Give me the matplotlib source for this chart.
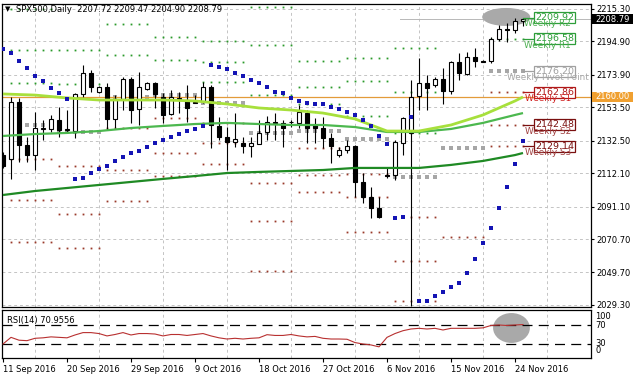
import numpy as np
import matplotlib
matplotlib.use('Agg')
import matplotlib.pyplot as plt
import matplotlib.transforms as mtrans
from matplotlib.patches import Ellipse, Rectangle

plt.rcParams['font.family'] = ['DejaVu Sans']
plt.rcParams['font.size'] = 6

# daily bars, 11 Sep 2016 .. 25 Nov 2016 (Sun-Fri sessions)
opens = [2123.5, 2121.0, 2156.8, 2129.8, 2123.5, 2139.9, 2139.9, 2145.5, 2139.3, 2138.6,
         2161.9, 2175.1, 2163.1, 2166.3, 2146.2, 2158.7, 2171.3, 2152.4, 2165.0, 2168.8,
         2160.0, 2149.3, 2158.7, 2158.1, 2156.8, 2156.8, 2166.3, 2141.8, 2134.9, 2131.7,
         2131.1, 2129.2, 2130.4, 2138.0, 2144.3, 2143.7, 2144.0, 2143.7, 2149.9, 2142.4,
         2140.5, 2134.2, 2123.5, 2126.7, 2129.2, 2106.6, 2097.1, 2090.2, 2110.9, 2110.9,
         2131.1, 2137.4, 2160.6, 2168.8, 2167.5, 2171.3, 2163.8, 2182.0, 2174.4, 2185.1,
         2182.6, 2182.6, 2196.4, 2202.7, 2202.1, 2207.72]
highs = [2125.5, 2160.0, 2159.4, 2134.9, 2150.6, 2145.5, 2148.7, 2153.7, 2151.8, 2162.5,
         2180.1, 2177.0, 2166.8, 2168.8, 2161.2, 2172.6, 2172.6, 2175.7, 2169.4, 2169.4,
         2162.5, 2164.4, 2163.1, 2167.5, 2161.2, 2169.4, 2167.5, 2147.4, 2141.1, 2149.9,
         2134.9, 2134.9, 2145.5, 2148.0, 2149.9, 2145.5, 2145.5, 2155.0, 2151.8, 2146.8,
         2147.4, 2137.4, 2128.6, 2133.0, 2129.8, 2112.2, 2103.4, 2097.1, 2115.9, 2133.0,
         2147.4, 2170.7, 2184.5, 2173.8, 2172.6, 2178.2, 2182.6, 2187.6, 2188.3, 2190.8,
         2183.2, 2197.7, 2205.2, 2206.5, 2209.6, 2209.47]
lows = [2115.5, 2108.5, 2119.1, 2119.1, 2114.1, 2133.0, 2138.0, 2134.9, 2138.0, 2134.2,
        2160.0, 2163.1, 2162.8, 2139.3, 2140.5, 2151.8, 2143.7, 2142.4, 2164.4, 2153.1,
        2143.7, 2148.7, 2149.9, 2144.3, 2156.2, 2156.2, 2127.9, 2133.0, 2114.1, 2128.6,
        2124.8, 2122.3, 2130.4, 2133.0, 2133.0, 2128.6, 2141.1, 2140.5, 2131.1, 2131.1,
        2127.9, 2118.5, 2122.3, 2124.8, 2097.1, 2093.4, 2083.9, 2083.9, 2109.1, 2107.8,
        2123.5, 2028.5, 2151.8, 2151.8, 2166.3, 2155.6, 2161.9, 2170.7, 2173.8, 2178.8,
        2181.8, 2181.4, 2195.2, 2194.6, 2200.2, 2204.90]
closes = [2116.6, 2156.8, 2129.8, 2123.5, 2140.5, 2140.5, 2146.2, 2139.3, 2139.9, 2161.9,
          2175.1, 2166.3, 2166.3, 2146.2, 2158.7, 2171.3, 2151.8, 2166.3, 2168.8, 2161.9,
          2148.7, 2160.0, 2159.4, 2153.1, 2156.5, 2166.3, 2142.4, 2134.9, 2131.7, 2133.6,
          2129.2, 2131.1, 2137.4, 2144.3, 2143.7, 2140.5, 2144.3, 2150.6, 2140.5, 2140.5,
          2134.2, 2129.2, 2126.7, 2129.2, 2106.6, 2097.1, 2090.2, 2084.6, 2110.6, 2131.7,
          2146.8, 2160.0, 2168.8, 2165.6, 2171.3, 2163.8, 2182.0, 2175.1, 2185.1, 2182.6,
          2182.3, 2196.4, 2202.7, 2201.8, 2207.8, 2208.79]

# moving averages read at every 4th bar
ma_idx = [0, 4, 8, 12, 16, 20, 24, 28, 32, 36, 40, 44, 48, 52, 56, 60, 64, 65]
ma_fast = [2161.9, 2161.2, 2159.4, 2158.1, 2158.1, 2158.1, 2157.5, 2155.6, 2153.1, 2151.8,
           2149.9, 2146.2, 2138.6, 2138.6, 2142.4, 2148.7, 2157.5, 2160.0]
ma_mid = [2135.5, 2136.7, 2137.4, 2138.6, 2140.5, 2141.8, 2143.0, 2143.7, 2143.0, 2142.4,
          2142.4, 2141.1, 2138.0, 2138.0, 2139.9, 2143.7, 2148.7, 2149.9]
ma_slow = [2098.4, 2100.9, 2102.8, 2104.7, 2106.6, 2108.5, 2110.3, 2112.2, 2112.9, 2113.5,
           2114.1, 2115.4, 2115.4, 2115.4, 2117.3, 2119.8, 2123.5, 2124.8]

sar = [2190.2, 2187.6, 2182.6, 2178.2, 2173.2, 2170.0, 2165.6, 2162.5, 2158.7,
       2108.5, 2109.1, 2112.2, 2114.7, 2116.6, 2119.8, 2122.3, 2124.8, 2126.1, 2128.6,
       2131.1, 2133.0, 2134.9, 2136.7, 2138.6, 2139.9, 2141.8,
       2180.1, 2178.8, 2177.6, 2175.1, 2173.2, 2170.7, 2168.5, 2166.3, 2163.1, 2162.5,
       2159.4, 2157.5, 2156.2, 2155.6, 2155.6, 2153.7, 2152.4, 2150.6, 2148.7, 2145.5,
       2141.8, 2135.5, 2130.4,
       2083.9, 2084.6, 2147.4, 2031.8, 2031.8, 2034.9, 2037.5, 2040.6, 2043.1, 2049.4,
       2058.2, 2068.2, 2077.7, 2090.2, 2103.4, 2117.9, 2132.3]

rsi = [30, 44, 38, 37, 42, 43, 45, 44, 43, 49, 54, 54, 52, 47, 50, 54, 49, 52, 52, 51,
       47, 50, 50, 48, 50, 52, 47, 43, 40.5, 42, 40.5, 42, 43, 49.6, 48, 48, 50, 47, 45, 46,
       42, 40.5, 40.5, 40, 33, 30, 28, 24, 44, 52, 58, 61.6, 63, 61.6, 63, 59.5, 63, 63, 63,
       63, 64, 69, 70, 69, 70, 70.96]

# weekly pivots, one row per week: R3 R2 R1 P S1 S2 S3 (week k spans bars 6k-5..6k)
piv_week = [1, 2, 3, 4, 5, 6, 7, 8, 9, 10, 11]
piv_r3 = [2215.0, 2219.4, 2232.1, 2219.7, 2195.0, 2216.4, 2182.9, 2184.8, 2190.6, 2383.7, 2230.3]
piv_r2 = [2189.4, 2189.7, 2206.1, 2197.7, 2182.2, 2192.9, 2166.4, 2169.9, 2163.1, 2284.1, 2209.92]
piv_r1 = [2168.5, 2167.9, 2186.2, 2183.3, 2169.3, 2161.1, 2155.3, 2148.3, 2137.6, 2227.7, 2196.58]
piv_p = [2142.4, 2138.2, 2160.2, 2161.3, 2156.5, 2137.6, 2138.8, 2133.4, 2110.0, 2128.1, 2176.20]
piv_s1 = [2121.2, 2116.4, 2140.3, 2146.9, 2143.6, 2105.8, 2127.7, 2111.8, 2084.6, 2071.7, 2162.86]
piv_s2 = [2095.3, 2086.7, 2114.3, 2124.9, 2130.8, 2082.3, 2111.2, 2096.9, 2057.0, 1972.1, 2142.48]
piv_s3 = [2069.0, 2064.9, 2094.4, 2110.5, 2117.9, 2050.5, 2100.1, 2075.3, 2031.6, 1900.0, 2129.14]

price_ticks = [2215.30, 2194.90, 2173.90, 2153.50, 2132.50, 2112.10, 2091.10, 2070.70, 2049.70, 2029.30]
date_idx = [0, 8, 16, 24, 32, 40, 48, 56, 64]
date_lbl = ['11 Sep 2016', '20 Sep 2016', '29 Sep 2016', '9 Oct 2016', '18 Oct 2016',
            '27 Oct 2016', '6 Nov 2016', '15 Nov 2016', '24 Nov 2016']
hline_price = 2160.00

W, H = 633, 379
PPU = 1.591  # pixels per price unit
fig = plt.figure(figsize=(W / 100, H / 100), dpi=100)


def px_axes(x0, y0, x1, y1):
    return fig.add_axes([x0 / W, 1 - y1 / H, (x1 - x0) / W, (y1 - y0) / H])


def ypx(p):
    return 9 + (2215.3 - p) * PPU


ax = px_axes(2, 4, 591, 307)
ar = px_axes(2, 310, 591, 358)
for a in (ax, ar):
    a.set_xlim(-0.125, 73.5)
    for s in a.spines.values():
        s.set_linewidth(0.9)
ax.set_ylim(2215.3 - 298 / PPU, 2215.3 + 5 / PPU)
ar.set_ylim(0.5, 101.6)

grid = dict(color='#c4c4c4', lw=0.7, ls=(0, (3, 3)), zorder=0)
for v in price_ticks:
    ax.axhline(v, **grid)
for b in range(4, 74, 8):
    ax.axvline(b, **grid)
    ar.axvline(b, **grid)

x = np.arange(len(opens))
o = np.array(opens); c = np.array(closes)

# weekly pivot dots
for k, wk in enumerate(piv_week):
    bars = np.arange(6 * wk - 5, min(6 * wk, len(opens) - 1) + 1)
    for arr, col, ms in ((piv_r3, '#2a9a2a', 1.3), (piv_r2, '#2a9a2a', 1.3), (piv_r1, '#2a9a2a', 1.3),
                         (piv_p, '#a6a6a6', 2.6),
                         (piv_s1, '#9a3a2a', 1.3), (piv_s2, '#9a3a2a', 1.3), (piv_s3, '#9a3a2a', 1.3)):
        ax.plot(bars, [arr[k]] * len(bars), ls='none', marker='s', ms=ms, color=col, mew=0, zorder=1)

ax.add_patch(Ellipse((62.9, 2210.3), 6.0, 11.3, fc='#a9a9a9', ec='none', zorder=1.5))
ax.plot([49.6, 73.5], [closes[-1], closes[-1]], color='#b8b8b8', lw=0.7, zorder=1.2)
ax.axhline(hline_price, color='#e39b3a', lw=0.9, zorder=1.6)

# candles
ax.vlines(x, lows, highs, color='black', lw=0.8, zorder=3)
up = c >= o
ax.bar(x, np.maximum(np.abs(c - o), 0.35), bottom=np.minimum(o, c), width=0.62,
       color=np.where(up, 'white', 'black'), edgecolor='black', lw=0.8, zorder=4)

ax.plot(ma_idx, ma_slow, color='#1f8a24', lw=1.6, zorder=5, solid_capstyle='butt')
ax.plot(ma_idx, ma_mid, color='#4cb84f', lw=1.6, zorder=5, solid_capstyle='butt')
ax.plot(ma_idx, ma_fast, color='#a7e03c', lw=2.0, zorder=5, solid_capstyle='butt')
ax.plot(x, sar, ls='none', marker='s', ms=3.0, color='#1414b4', mew=0, zorder=6)

# current-week pivot labels
lab_txt = ['Weekly R2', 'Weekly R1', 'Weekly Pivot Point', 'Weekly S1', 'Weekly S2', 'Weekly S3']
lab_val = [piv_r2[-1], piv_r1[-1], piv_p[-1], piv_s1[-1], piv_s2[-1], piv_s3[-1]]
box_col = ['#2e9e3a', '#2e9e3a', '#a0a0a0', '#b01818', '#7a1010', '#7a1010']
txt_col = ['#4caf50', '#4caf50', '#a8a8a8', '#d02020', '#a04040', '#a04040']
for v, t, bc, tc in zip(lab_val, lab_txt, box_col, txt_col):
    ax.plot([65, 66.4], [v, v], color=bc, lw=0.9, zorder=7)
    ax.add_patch(Rectangle((66.4, v - 5.5 / PPU), 5.1, 11 / PPU, fc='white', ec=bc, lw=0.9, zorder=7))
    ax.text(68.95, v, f'{v:.2f}', ha='center', va='center', color=bc, fontsize=6.8, zorder=8)
    ax.text(68.1, v - 4.0, t, ha='center', va='center', color=tc, fontsize=6.4, zorder=9)

ax.yaxis.tick_right()
ax.set_yticks(price_ticks)
ax.set_yticklabels([f'{v:.2f}' for v in price_ticks])
ax.tick_params(axis='y', length=2.5, width=0.8, pad=1.5, labelsize=6)
ax.tick_params(axis='x', bottom=False, labelbottom=False)

# price tags on the axis
for val, fc in ((closes[-1], 'black'), (hline_price, '#f0a030')):
    yp = ypx(val)
    fig.patches.append(Rectangle((592 / W, 1 - (yp + 5) / H), 41 / W, 10 / H,
                                 transform=fig.transFigure, fc=fc, ec='none'))
    fig.text(595 / W, 1 - yp / H, f'{val:.2f}', color='white', va='center', ha='left', fontsize=6)

fig.text(5 / W, 1 - 9.5 / H, '\u25bc', fontsize=5, va='center', ha='left')
fig.text(16 / W, 1 - 9.5 / H, 'SPX500,Daily  %.2f %.2f %.2f %.2f' % (opens[-1], highs[-1], lows[-1], closes[-1]),
         fontsize=6.0, va='center', ha='left')

# RSI panel
ar.add_patch(Ellipse((63.56, 63.7), 4.6, 63, fc='#a9a9a9', ec='none', zorder=1))
ar.axhline(70, color='black', lw=0.9, ls=(0, (8, 5)), zorder=2)
ar.axhline(30, color='black', lw=0.9, ls=(0, (8, 5)), zorder=2)
ar.plot(x, rsi, color='#b83030', lw=0.8, zorder=3)
ar.set_yticks([])
ar.set_xticks(date_idx)
ar.set_xticklabels(date_lbl, ha='left')
ar.tick_params(axis='x', length=3, width=0.8, pad=2, labelsize=6)
tr = mtrans.blended_transform_factory(ar.transAxes, ar.transData)
for val, yv in (('100', 88), ('70', 70), ('30', 31), ('0', 16)):
    ar.text(1.0 + 4 / 589, yv, val, transform=tr, ha='left', va='center', fontsize=6, clip_on=False)
fig.text(7 / W, 1 - 320 / H, 'RSI(14) %.4f' % 70.9556, fontsize=6, va='center', ha='left')

fig.savefig('out.png', dpi=100)
